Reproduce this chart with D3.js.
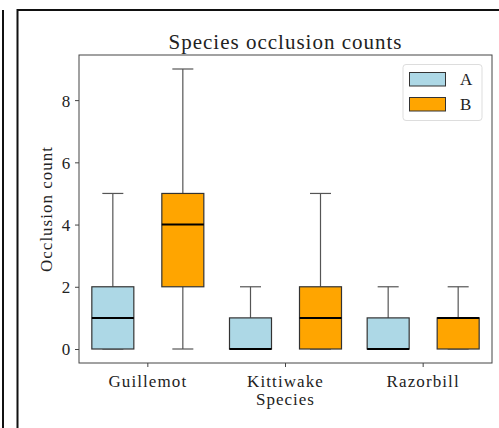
<!DOCTYPE html>
<html>
<head>
<meta charset="utf-8">
<script src="https://cdn.jsdelivr.net/npm/d3@7"></script>
<style>
  body { margin: 0; background: #fff; }
  svg text { font-family: "Liberation Serif", "DejaVu Serif", serif; fill: #222; }
</style>
</head>
<body>
<svg id="chart" width="499" height="428"></svg>
<script>
// box stats per species: [min, q1, median, q3, max]
var species = ["Guillemot", "Kittiwake", "Razorbill"];
var groups = ["A", "B"];
var statsA = [[0, 0, 1, 2, 5], [0, 0, 0, 1, 2], [0, 0, 0, 1, 2]];
var statsB = [[0, 2, 4, 5, 9], [0, 0, 1, 2, 5], [0, 0, 1, 1, 2]];
var yTicks = [0, 2, 4, 6, 8];
var colors = ["#add8e6", "#ffa500"];

var svg = d3.select("#chart"),
    margin = {top: 55, right: 7, bottom: 65, left: 79},
    width = +svg.attr("width") - margin.left - margin.right,
    height = +svg.attr("height") - margin.top - margin.bottom;

// notebook frame lines
svg.append("line").attr("x1", 3).attr("x2", 3).attr("y1", 10).attr("y2", 428)
  .attr("stroke", "#111").attr("stroke-width", 2);
svg.append("path").attr("d", "M17.5,430 V10 H505")
  .attr("fill", "none").attr("stroke", "#111").attr("stroke-width", 2);

var g = svg.append("g").attr("transform", "translate(" + margin.left + "," + margin.top + ")");

var x = d3.scaleBand().domain(species).range([0, width]).padding(0);
var y = d3.scaleLinear().domain([-0.45, 9.45]).range([height, 0]);

var offset = 35, boxW = 42, capW = 21;

var data = [];
species.forEach(function(s, i) {
  data.push({sp: s, grp: 0, st: statsA[i]});
  data.push({sp: s, grp: 1, st: statsB[i]});
});

var box = g.selectAll(".box").data(data).enter().append("g")
  .attr("transform", function(d) {
    return "translate(" + (x(d.sp) + x.bandwidth() / 2 + (d.grp ? offset : -offset)) + ",0)";
  });

// whiskers
box.append("line").attr("x1", 0).attr("x2", 0)
  .attr("y1", function(d) { return y(d.st[3]); }).attr("y2", function(d) { return y(d.st[4]); })
  .attr("stroke", "#555").attr("stroke-width", 1.2);
box.append("line").attr("x1", 0).attr("x2", 0)
  .attr("y1", function(d) { return y(d.st[1]); }).attr("y2", function(d) { return y(d.st[0]); })
  .attr("stroke", "#555").attr("stroke-width", 1.2);
box.append("line").attr("x1", -capW / 2).attr("x2", capW / 2)
  .attr("y1", function(d) { return y(d.st[4]); }).attr("y2", function(d) { return y(d.st[4]); })
  .attr("stroke", "#555").attr("stroke-width", 1.2);
box.append("line").attr("x1", -capW / 2).attr("x2", capW / 2)
  .attr("y1", function(d) { return y(d.st[0]); }).attr("y2", function(d) { return y(d.st[0]); })
  .attr("stroke", "#555").attr("stroke-width", 1.2);

box.append("rect")
  .attr("x", -boxW / 2).attr("width", boxW)
  .attr("y", function(d) { return y(d.st[3]); })
  .attr("height", function(d) { return y(d.st[1]) - y(d.st[3]); })
  .attr("fill", function(d) { return colors[d.grp]; })
  .attr("stroke", "#333").attr("stroke-width", 1.2);

box.append("line").attr("x1", -boxW / 2).attr("x2", boxW / 2)
  .attr("y1", function(d) { return y(d.st[2]); }).attr("y2", function(d) { return y(d.st[2]); })
  .attr("stroke", "#000").attr("stroke-width", 2);

// axes
var xAxis = g.append("g").attr("transform", "translate(0," + height + ")")
  .call(d3.axisBottom(x).tickSize(4).tickSizeOuter(0));
var yAxis = g.append("g").call(d3.axisLeft(y).tickValues(yTicks).tickSize(4).tickSizeOuter(0));
[xAxis, yAxis].forEach(function(a) {
  a.select(".domain").remove();
  a.selectAll(".tick line").attr("stroke", "#444");
  a.selectAll("text").attr("font-family", "Liberation Serif").attr("font-size", 17)
    .attr("fill", "#222").attr("letter-spacing", 1.1);
});
xAxis.selectAll("text").attr("dy", "1.0em");
yAxis.selectAll("text").attr("dx", "-0.1em").attr("dy", "0.35em").attr("letter-spacing", 0);

g.append("rect").attr("width", width).attr("height", height)
  .attr("fill", "none").attr("stroke", "#444").attr("stroke-width", 1);

// titles
svg.append("text").attr("x", margin.left + width / 2).attr("y", 49)
  .attr("text-anchor", "middle").attr("font-size", 21).attr("letter-spacing", 1)
  .text("Species occlusion counts");
svg.append("text").attr("x", margin.left + width / 2).attr("y", 405)
  .attr("text-anchor", "middle").attr("font-size", 17).attr("letter-spacing", 1)
  .text("Species");
svg.append("text").attr("transform", "translate(52," + (margin.top + y(4.5)) + ") rotate(-90)")
  .attr("text-anchor", "middle").attr("font-size", 17).attr("letter-spacing", 1)
  .text("Occlusion count");

// legend
var lg = svg.append("g").attr("transform", "translate(403,64.5)");
lg.append("rect").attr("width", 79).attr("height", 56).attr("rx", 3)
  .attr("fill", "#fff").attr("fill-opacity", 0.8).attr("stroke", "#ddd");
groups.forEach(function(k, i) {
  lg.append("rect").attr("x", 6.5).attr("y", 8 + i * 25).attr("width", 36).attr("height", 13.5)
    .attr("fill", colors[i]).attr("stroke", "#333").attr("stroke-width", 1);
  lg.append("text").attr("x", 57).attr("y", 20.5 + i * 25).attr("font-size", 17).text(k);
});
</script>
</body>
</html>
